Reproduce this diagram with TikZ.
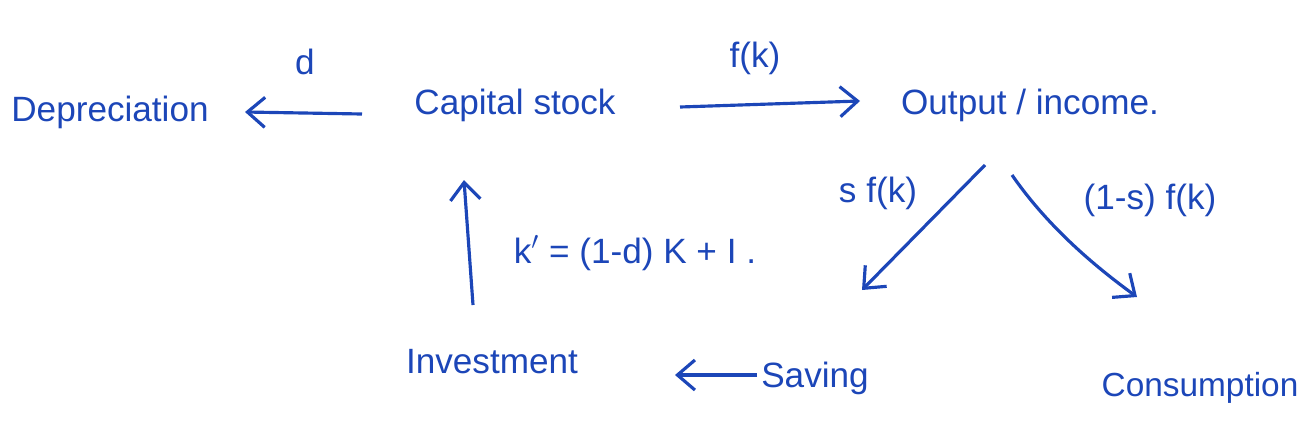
\documentclass[tikz,border=0pt]{standalone}
\usepackage{fontspec}
\setmainfont{Liberation Sans}
\usetikzlibrary{arrows.meta, positioning}
\definecolor{inkblue}{HTML}{1C46B8}

\begin{document}
\begin{tikzpicture}[
    x=0.02cm, y=-0.02cm,
    font=\fontsize{20}{24}\selectfont,
    item/.style={text=inkblue, inner sep=2pt},
    lbl/.style={text=inkblue, inner sep=1pt},
    arrow/.style={-{Straight Barb[length=3.5mm, width=6mm]}, draw=inkblue, line width=1.8pt}
]
  \useasboundingbox (0,0) rectangle (1304,437);

  \node[item] (dep) at (110,112) {Depreciation};
  \node[item] (cap) at (515,105) {Capital stock};
  \node[item] (out) at (1030,105) {Output / income.};
  \node[item] (inv) at (492,362) {Investment};
  \node[item] (sav) at (815,378) {Saving};
  \node[item, font=\fontsize{19}{23}\selectfont] (con) at (1200,388) {Consumption};

  % arrow end points
  \coordinate (capw) at (362,114);
  \coordinate (depe) at (245,112);
  \coordinate (cape) at (680,107);
  \coordinate (outw) at (860,101);
  \coordinate (outa) at (985,165);
  \coordinate (sava) at (862,290);
  \coordinate (outb) at (1012,175);
  \coordinate (cona) at (1137,297);
  \coordinate (savw) at (757,375);
  \coordinate (inve) at (675,375);
  \coordinate (invn) at (473,305);
  \coordinate (caps) at (464,180);

  \draw[arrow] (capw) -- (depe);
  \draw[arrow] (cape) -- (outw);
  \draw[arrow] (outa) -- (sava);
  \draw[arrow] (outb) .. controls (1050,230) and (1100,270) .. (cona);
  \draw[arrow] (savw) -- (inve);
  \draw[arrow] (invn) -- (caps);

  \node[lbl] (ld) at (305,62) {d};
  \node[lbl] (lf) at (755,58) {f(k)};
  \node[lbl] (ls) at (878,193) {s f(k)};
  \node[lbl] (lc) at (1150,200) {(1-s) f(k)};
  \node[lbl] (lk) at (635,253) {k$'$ = (1-d) K + I .};
\end{tikzpicture}
\end{document}
